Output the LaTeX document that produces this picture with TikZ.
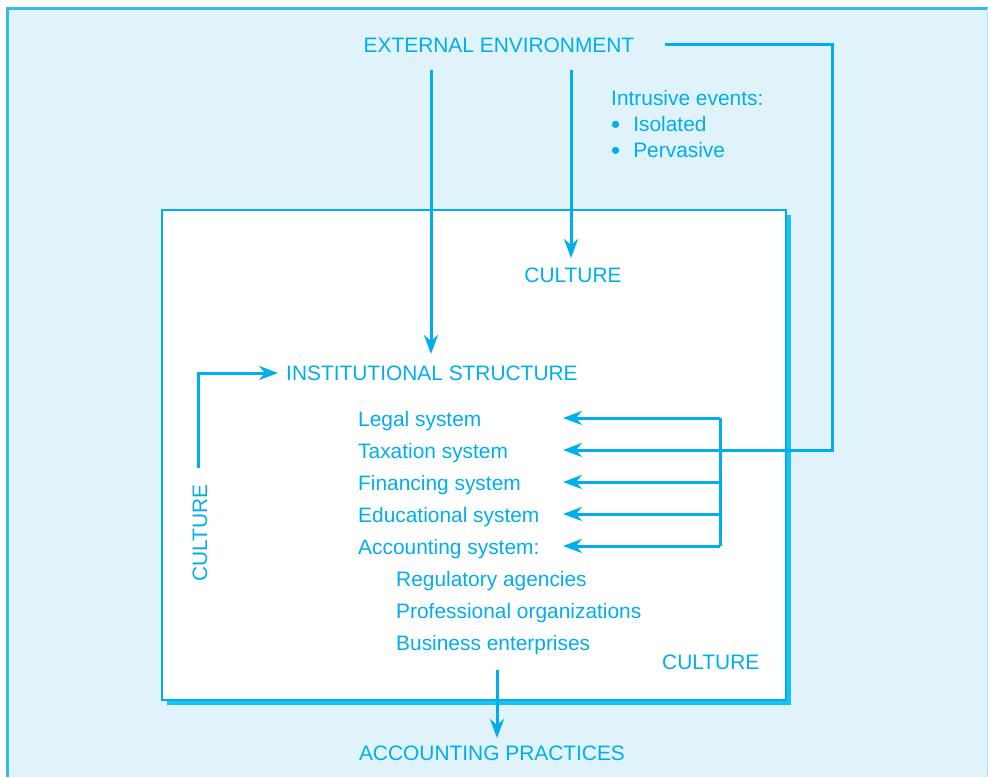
\documentclass[tikz,border=0pt]{standalone}
\usepackage{fontspec}
\setmainfont{Liberation Sans}
\usetikzlibrary{arrows.meta}
\definecolor{cy}{HTML}{00AEEF}
\definecolor{bgc}{HTML}{E0F3FA}
\definecolor{shad}{HTML}{1CC2EF}
\definecolor{edge}{HTML}{33BBEA}
\newcommand{\bigbul}{\raisebox{-2.5pt}{\fontsize{26pt}{24pt}\selectfont\textbullet}\hspace{13pt}}
\begin{document}
\begin{tikzpicture}[x=1pt,y=-1pt,
  lbl/.style={inner sep=0pt,text=cy,font=\fontsize{20.9pt}{24pt}\selectfont},
  conn/.style={draw=cy,line width=3pt},
  arr/.style={conn,-{Stealth[length=19pt,width=14pt,inset=6pt]}}]
\useasboundingbox (0,0) rectangle (988,777);
% outer panel
\fill[bgc] (6,7) rectangle (988,777);
\draw[edge,line width=3pt] (7.5,777) -- (7.5,8.5) -- (988,8.5);
\draw[cy!35,line width=1.2pt] (987.4,8) -- (987.4,777);
% inner box with shadow
\fill[shad] (167,215) rectangle (791,705);
\filldraw[fill=white,draw=cy,line width=2.4pt] (162,210) rectangle (786,700);
% texts
\node[lbl,anchor=base] (ext) at (499,52) {EXTERNAL ENVIRONMENT};
\node[lbl,anchor=base west] (intr) at (611,105) {Intrusive events:};
\node[lbl,anchor=base west] (iso) at (611,131) {\bigbul Isolated};
\node[lbl,anchor=base west] (perv) at (611,157) {\bigbul Pervasive};
\node[lbl,anchor=base] (cult1) at (573,282) {CULTURE};
\node[lbl,anchor=base west] (inst) at (286,380) {INSTITUTIONAL STRUCTURE};
\node[lbl,anchor=base west] (legal) at (358,426) {Legal system};
\node[lbl,anchor=base west] (tax) at (358,458) {Taxation system};
\node[lbl,anchor=base west] (fin) at (358,490) {Financing system};
\node[lbl,anchor=base west] (edu) at (358,522) {Educational system};
\node[lbl,anchor=base west] (acc) at (358,554) {Accounting system:};
\node[lbl,anchor=base west] (reg) at (396,586) {Regulatory agencies};
\node[lbl,anchor=base west] (prof) at (396,618) {Professional organizations};
\node[lbl,anchor=base west] (bus) at (396,650) {Business enterprises};
\node[lbl,anchor=base west] (cult2) at (662,669) {CULTURE};
\node[lbl,rotate=90] (cult3) at (200,533) {CULTURE};
\node[lbl,anchor=base] (pract) at (492,760) {ACCOUNTING PRACTICES};
% connector coordinates
\coordinate (e1) at (431,70);
\coordinate (e1h) at (431,354);
\coordinate (e2) at (571,70);
\coordinate (e2h) at (571,258);
\coordinate (eR) at (665,44);
\coordinate (eC) at (832,450);
\coordinate (hLeg) at (563,418);
\coordinate (hTax) at (563,450);
\coordinate (hFin) at (563,482);
\coordinate (hEdu) at (563,514);
\coordinate (hAcc) at (563,546);
\coordinate (bTop) at (720,418);
\coordinate (bBot) at (720,546);
\coordinate (cS) at (198,468);
\coordinate (cE) at (278,373);
\coordinate (pS) at (497,670);
\coordinate (pE) at (497,738);
% connectors
\draw[arr] (e1) -- (e1h);
\draw[arr] (e2) -- (e2h);
\draw[arr] (eR) -| (eC) -- (hTax);
\draw[conn] (bTop) -- (bBot);
\draw[arr] (bTop) -- (hLeg);
\draw[arr] (720,482) -- (hFin);
\draw[arr] (720,514) -- (hEdu);
\draw[arr] (bBot) -- (hAcc);
\draw[arr] (cS) |- (cE);
\draw[arr] (pS) -- (pE);
\end{tikzpicture}
\end{document}
